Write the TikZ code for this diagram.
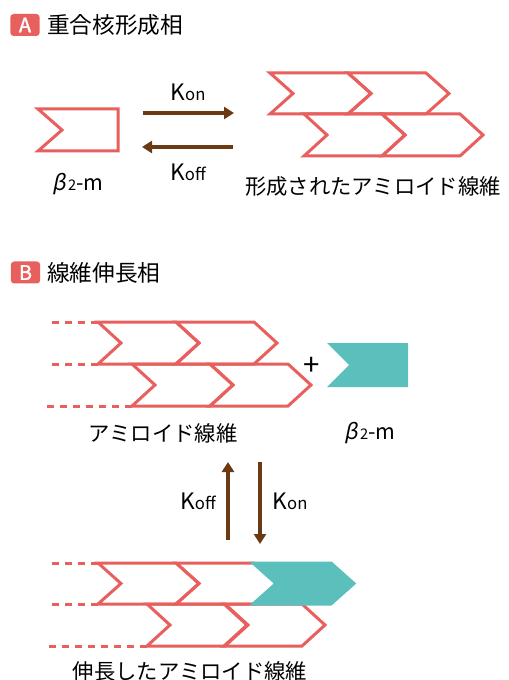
\documentclass[tikz,border=0pt]{standalone}
\usepackage{fontspec}
\setmainfont{Noto Sans CJK JP}
\newfontfamily\slfont[FakeSlant=0.2]{Noto Sans CJK JP}
\newfontfamily\badgefont[FakeBold=1.5]{Noto Sans CJK JP}
\usetikzlibrary{arrows.meta}
\definecolor{fibred}{HTML}{E8605E}
\definecolor{tealc}{HTML}{5BBFBC}
\definecolor{brn}{HTML}{6B3A12}
\newcommand\fibunit[4][fib]{% style, x, top, bottom
  \draw[#1] (#2,#3) -- (#2+78,#3) -- (#2+101,{(#3+#4)/2}) -- (#2+78,#4) -- (#2,#4) -- (#2+23,{(#3+#4)/2}) -- cycle;}
\newcommand\Kon{K{\fontsize{12.5pt}{14pt}\selectfont on}}
\newcommand\Koff{K{\fontsize{12.5pt}{14pt}\selectfont off}}
\newcommand\btwom{{\slfont β}\kern1.5pt{\fontsize{11pt}{13pt}\selectfont 2}-m}
\tikzset{
  fib/.style={draw=fibred, line width=2.25pt, line join=miter},
  tealunit/.style={draw=tealc, fill=tealc, line width=2.25pt},
  dashline/.style={draw=fibred, line width=2.25pt, dash pattern=on 5.25pt off 4.5pt},
  rate/.style={draw=brn, line width=2.6pt, -{Triangle[length=7.5pt,width=9pt]}},
  badge/.style={fill=fibred, rounded corners=2.5pt, minimum width=22pt, minimum height=16.5pt, inner sep=0pt, text=white, font=\badgefont\fontsize{15pt}{16pt}\selectfont},
  title/.style={anchor=west, inner sep=0pt, font=\fontsize{17pt}{20pt}\selectfont},
  lbl/.style={inner sep=0pt, font=\fontsize{16pt}{19pt}\selectfont},
  klbl/.style={inner sep=0pt, font=\fontsize{17pt}{20pt}\selectfont},
}
\begin{document}
\begin{tikzpicture}[x=0.75pt, y=-0.75pt]
\useasboundingbox (0,0) rectangle (509,680);

% ---- A ----
\node[badge] (badgeA) at (25,25) {A};
\node[title] (titleA) at (47,25) {重合核形成相};

\draw[fib] (38,109) -- (118,109) -- (118,151) -- (38,151) -- (62,130) -- cycle;
\node[lbl] (monoA) at (78,184) {\btwom};

\fibunit{270}{73}{114}
\fibunit{348}{73}{114}
\fibunit{304}{114}{156}
\fibunit{382}{114}{156}
\node[lbl] (fibA) at (373,186) {形成されたアミロイド線維};

\coordinate (a1s) at (143,113);
\coordinate (a1e) at (234,113);
\coordinate (a2s) at (233,147);
\coordinate (a2e) at (142,147);
\draw[rate] (a1s) -- (a1e);
\draw[rate] (a2s) -- (a2e);
\node[klbl] (konA) at (188,92) {\Kon};
\node[klbl] (koffA) at (188,172) {\Koff};

% ---- B ----
\node[badge] (badgeB) at (25.5,272.5) {B};
\node[title] (titleB) at (47,272.5) {線維伸長相};

\coordinate (b1) at (98,322);
\coordinate (b1l) at (46,322);
\coordinate (b2) at (98,364);
\coordinate (b2l) at (46,364);
\coordinate (b3) at (132,406);
\coordinate (b3l) at (46,406);
\draw[dashline] (b1) -- (b1l);
\draw[dashline] (b2) -- (b2l);
\draw[dashline] (b3) -- (b3l);
\fibunit{98}{322}{364}
\fibunit{176}{322}{364}
\fibunit{132}{364}{406}
\fibunit{210}{364}{406}
\node[lbl] (fibB) at (163,433) {アミロイド線維};
\node[inner sep=0pt, font=\fontsize{22pt}{24pt}\selectfont] (plus) at (312,366) {+};
\fill[tealc] (327,343) -- (408,343) -- (408,387) -- (327,387) -- (349,365) -- cycle;
\node[lbl] (monoB) at (370,433) {\btwom};

\coordinate (c1s) at (228,540);
\coordinate (c1e) at (228,462);
\coordinate (c2s) at (260,462);
\coordinate (c2e) at (260,544);
\draw[rate] (c1s) -- (c1e);
\draw[rate] (c2s) -- (c2e);
\node[klbl] (koffB) at (198,501) {\Koff};
\node[klbl] (konB) at (290,501) {\Kon};

% ---- C ----
\coordinate (d1) at (98,563);
\coordinate (d1l) at (46,563);
\coordinate (d2) at (98,604);
\coordinate (d2l) at (46,604);
\coordinate (d3) at (147,646);
\coordinate (d3l) at (46,646);
\draw[dashline] (d1) -- (d1l);
\draw[dashline] (d2) -- (d2l);
\draw[dashline] (d3) -- (d3l);
\fibunit{98}{563}{604}
\fibunit{176}{563}{604}
\fibunit{147}{604}{646}
\fibunit{224}{604}{646}
\fibunit[tealunit]{253}{563}{604}
\node[lbl] (fibC) at (190,671) {伸長したアミロイド線維};
\end{tikzpicture}
\end{document}
